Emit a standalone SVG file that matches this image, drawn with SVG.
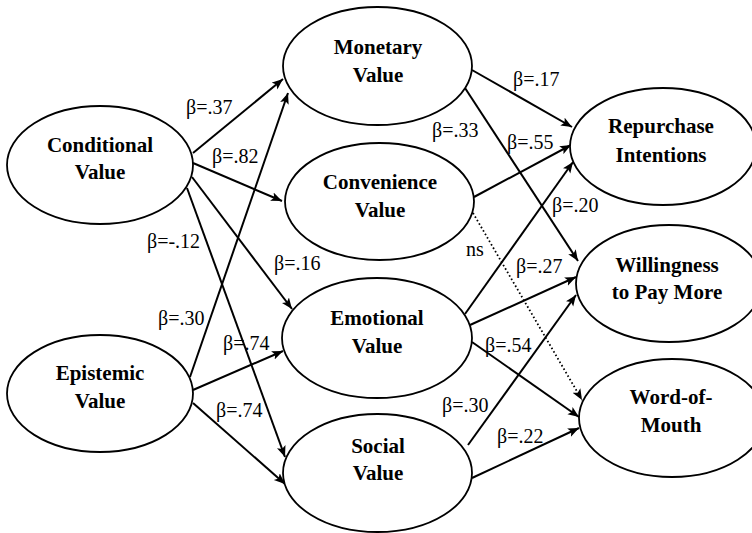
<svg xmlns="http://www.w3.org/2000/svg" width="752" height="533" viewBox="0 0 752 533">
<style>
.node ellipse{fill:#fff;stroke:#000;stroke-width:1.8}
.node text{font-family:"Liberation Serif","Times New Roman",serif;font-weight:bold;font-size:21px;text-anchor:middle;fill:#000}
.edge{stroke:#000;stroke-width:2;fill:none;marker-end:url(#arr)}
.dot{stroke:#000;stroke-width:1.8;fill:none;stroke-dasharray:1.6 2.4;marker-end:url(#arr)}
.lbl{font-family:"Liberation Serif","Times New Roman",serif;font-size:20px;fill:#000}
</style>
<defs>
<marker id="arr" markerUnits="userSpaceOnUse" markerWidth="12" markerHeight="10" refX="11" refY="5" orient="auto">
<path d="M0,0.5 L11,5 L0,9.5 L2.5,5 Z" fill="#000"/>
</marker>
</defs>
<rect width="752" height="533" fill="#fff"/>
<g id="connectors">
<line class="edge" x1="193" y1="153" x2="283" y2="79"/>
<line class="edge" x1="193" y1="163" x2="282" y2="201"/>
<line class="edge" x1="192" y1="177" x2="292" y2="309"/>
<line class="edge" x1="187" y1="188" x2="285" y2="457"/>
<line class="edge" x1="190" y1="377" x2="288" y2="93"/>
<line class="edge" x1="193" y1="390" x2="283" y2="351"/>
<line class="edge" x1="193" y1="403" x2="285" y2="484"/>
<line class="edge" x1="472" y1="70" x2="572" y2="127"/>
<line class="edge" x1="465" y1="88" x2="578" y2="261"/>
<line class="edge" x1="474" y1="197" x2="571" y2="145"/>
<line class="dot" x1="473" y1="213" x2="582" y2="400"/>
<line class="edge" x1="465" y1="314" x2="573" y2="162"/>
<line class="edge" x1="470" y1="325" x2="576" y2="277"/>
<line class="edge" x1="472" y1="342" x2="579" y2="417"/>
<line class="edge" x1="468" y1="445" x2="576" y2="295"/>
<line class="edge" x1="472" y1="478" x2="579" y2="428"/>
</g>
<g id="labels">
<text class="lbl" x="186" y="114">β=.37</text>
<text class="lbl" x="212" y="163">β=.82</text>
<text class="lbl" x="147" y="248">β=-.12</text>
<text class="lbl" x="274" y="270">β=.16</text>
<text class="lbl" x="158" y="325">β=.30</text>
<text class="lbl" x="223" y="350">β=.74</text>
<text class="lbl" x="216" y="417">β=.74</text>
<text class="lbl" x="513" y="86">β=.17</text>
<text class="lbl" x="432" y="137">β=.33</text>
<text class="lbl" x="507" y="149">β=.55</text>
<text class="lbl" x="552" y="212">β=.20</text>
<text class="lbl" x="466" y="256">ns</text>
<text class="lbl" x="516" y="273">β=.27</text>
<text class="lbl" x="485" y="352">β=.54</text>
<text class="lbl" x="442" y="412">β=.30</text>
<text class="lbl" x="497" y="443">β=.22</text>
</g>
<g id="conditional" class="node">
<ellipse cx="100" cy="165" rx="93" ry="59"/>
<text x="100" y="152">Conditional</text>
<text x="100" y="179">Value</text>
</g>
<g id="epistemic" class="node">
<ellipse cx="100" cy="393.5" rx="93" ry="58.5"/>
<text x="100" y="380">Epistemic</text>
<text x="100" y="408">Value</text>
</g>
<g id="monetary" class="node">
<ellipse cx="377.5" cy="66" rx="94.5" ry="59"/>
<text x="378" y="54">Monetary</text>
<text x="378" y="82">Value</text>
</g>
<g id="convenience" class="node">
<ellipse cx="379.5" cy="201.5" rx="94.5" ry="58.5"/>
<text x="380" y="189">Convenience</text>
<text x="380" y="217">Value</text>
</g>
<g id="emotional" class="node">
<ellipse cx="377" cy="338" rx="95" ry="60"/>
<text x="377" y="325">Emotional</text>
<text x="377" y="353">Value</text>
</g>
<g id="social" class="node">
<ellipse cx="377.5" cy="473" rx="94.5" ry="59"/>
<text x="378" y="453">Social</text>
<text x="378" y="480">Value</text>
</g>
<g id="repurchase" class="node">
<ellipse cx="663" cy="146.5" rx="93" ry="58.5"/>
<text x="661" y="133">Repurchase</text>
<text x="661" y="162">Intentions</text>
</g>
<g id="willingness" class="node">
<ellipse cx="669" cy="283.5" rx="93" ry="58.5"/>
<text x="667" y="272">Willingness</text>
<text x="667" y="299">to Pay More</text>
</g>
<g id="wom" class="node">
<ellipse cx="672" cy="418" rx="93" ry="59"/>
<text x="671" y="404">Word-of-</text>
<text x="671" y="432">Mouth</text>
</g>
</svg>
